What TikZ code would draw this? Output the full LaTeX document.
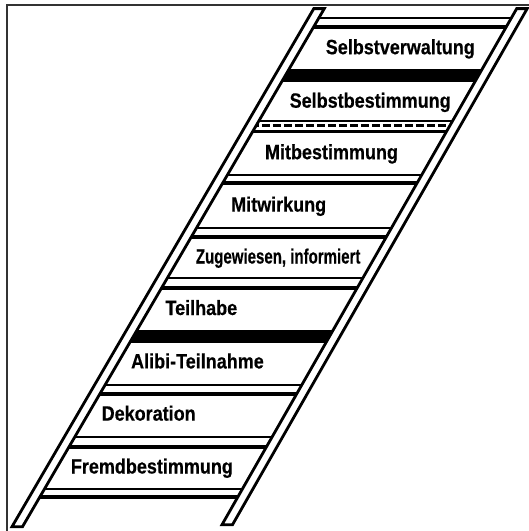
\documentclass[tikz,border=0pt]{standalone}
\usepackage{fontspec}
\setmainfont{Liberation Sans}[BoldFeatures={FakeBold=0.5}]
\usepackage{graphicx}
\newcommand{\rungline}[2]{%
  \pgfmathsetmacro{\xa}{16.5+(528-#1)*0.5825}%
  \pgfmathsetmacro{\xb}{226.5+(526-#1)*0.571}%
  \draw[#2] (\xa,#1) -- (\xb,#1);}
\newcommand{\lab}[2][1]{\scalebox{#1}[1.15]{#2}}
\begin{document}
\begin{tikzpicture}[x=1pt,y=-1pt]
\tikzset{
  lbl/.style={anchor=base west, inner sep=0pt, font=\fontsize{18}{20}\selectfont\bfseries},
  rail/.style={draw=black, line width=2.8pt, fill=white, line join=miter},
  thinrung/.style={line width=2.2pt},
  thickrung/.style={line width=3.6pt},
  barrung/.style={line width=13pt},
  dashrung/.style={line width=2.6pt, dash pattern=on 8pt off 3pt},
  frameline/.style={draw=black!80, line width=1.2pt}
}
\useasboundingbox (0,0) rectangle (529,531);
\fill[white] (0,0) rectangle (529,531);
\draw[frameline] (7,531) -- (7,5) -- (529,5);
% rungs
\rungline{18}{thinrung}
\rungline{27}{thickrung}
\rungline{75.5}{barrung}
\rungline{121}{thinrung}
\rungline{125.5}{dashrung}
\rungline{131.5}{thickrung}
\rungline{175}{thinrung}
\rungline{183}{thickrung}
\rungline{228}{thinrung}
\rungline{237}{thickrung}
\rungline{278}{thinrung}
\rungline{288}{thickrung}
\rungline{336.5}{barrung}
\rungline{385}{thinrung}
\rungline{394}{thickrung}
\rungline{437}{thinrung}
\rungline{447}{thickrung}
\rungline{489}{thinrung}
\rungline{497}{thickrung}
% rails
\draw[rail] (12,526.7) -- (22.5,526.7) -- (324.3,8.6) -- (313.8,8.6) -- cycle;
\draw[rail] (222,524.7) -- (232.5,524.7) -- (527.2,8.6) -- (516.7,8.6) -- cycle;
% labels
\node[lbl] (t1) at (325.6,54.2) {\lab{Selbstverwaltung}};
\node[lbl] (t2) at (289.5,107.7) {\lab{Selbstbestimmung}};
\node[lbl] (t3) at (264.8,159.2) {\lab{Mitbestimmung}};
\node[lbl] (t4) at (231,211.6) {\lab{Mitwirkung}};
\node[lbl] (t5) at (195.7,263.5) {\lab[0.835]{Zugewiesen, informiert}};
\node[lbl] (t6) at (165.3,315) {\lab{Teilhabe}};
\node[lbl] (t7) at (130.9,368.4) {\lab{Alibi-Teilnahme}};
\node[lbl] (t8) at (101.5,420.6) {\lab{Dekoration}};
\node[lbl] (t9) at (70.7,473.5) {\lab{Fremdbestimmung}};
\end{tikzpicture}
\end{document}
